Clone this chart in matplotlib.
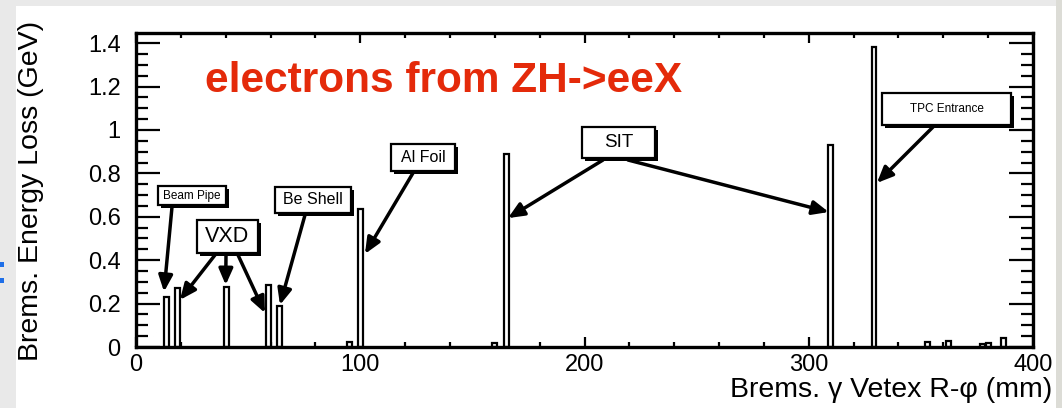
import matplotlib
matplotlib.use("Agg")
import matplotlib.pyplot as plt
from matplotlib.patches import Rectangle
from matplotlib.ticker import MultipleLocator, FixedLocator, FixedFormatter

plt.rcParams["font.family"] = ["Liberation Sans", "DejaVu Sans"]

# histogram: bin centre (mm) and brems energy loss (GeV)
r_mm = [13.5, 18.7, 40.3, 59.2, 64.1, 95.4, 100.2, 160.0, 165.1,
        309.8, 329.1, 352.9, 362.5, 377.5, 380.0, 386.8]
e_gev = [0.232, 0.273, 0.275, 0.286, 0.189, 0.025, 0.636, 0.02, 0.889,
         0.931, 1.381, 0.025, 0.028, 0.015, 0.02, 0.04]
bin_w = 2.2

x_ticks = [0, 100, 200, 300, 400]
x_labels = ["0", "100", "200", "300", "400"]
y_ticks = [0, 0.2, 0.4, 0.6, 0.8, 1.0, 1.2, 1.4]
y_labels = ["0", "0.2", "0.4", "0.6", "0.8", "1", "1.2", "1.4"]

# label boxes: text, (left, top, right, bottom) in image px, font size
boxes = [
    ("Beam Pipe", (158, 186, 226, 205), 8.5),
    ("VXD", (197, 220, 258, 253), 15.5),
    ("Be Shell", (275, 187, 351, 213), 11.5),
    ("Al Foil", (391, 144, 455, 171), 11.5),
    ("SIT", (582, 127, 655, 158), 13.5),
    ("TPC Entrance", (882, 93, 1011, 125), 8.5),
]
# arrows: start (image px) -> tip (data: mm, GeV)
arrows = [
    ((172, 207), (12.5, 0.255)),
    ((215, 255), (19.6, 0.217)),
    ((226, 255), (40.0, 0.286)),
    ((238, 255), (57.5, 0.157)),
    ((305, 215), (64.2, 0.194)),
    ((413, 173), (102.1, 0.429)),
    ((603, 160), (165.9, 0.594)),
    ((628, 160), (308.9, 0.622)),
    ((933, 127), (330.4, 0.756)),
]

W, H = 1062, 408
fx = lambda px: px / W
fy = lambda py: 1 - py / H

fig = plt.figure(figsize=(W / 100, H / 100), dpi=100, facecolor="#e9e9e9")
fig.add_artist(Rectangle((fx(16), 0), fx(1056) - fx(16), fy(6), transform=fig.transFigure,
                         fc="white", ec="none", zorder=0))
fig.add_artist(Rectangle((fx(1056), 0), 1 - fx(1056), 1, transform=fig.transFigure,
                         fc="#dcdcd6", ec="none", zorder=0))
for yb in (262, 278):
    fig.add_artist(Rectangle((0, fy(yb + 5)), fx(4), 5 / H, transform=fig.transFigure,
                             fc="#1f6fe8", ec="none", zorder=0))

ax = fig.add_axes([fx(136), fy(347), fx(1033) - fx(136), fy(33) - fy(347)])
ax.bar(r_mm, e_gev, width=bin_w, facecolor="white", edgecolor="black", linewidth=1.6, zorder=2)
ax.set_xlim(0, 400)
ax.set_ylim(0, 1.447)

ax.xaxis.set_major_locator(FixedLocator(x_ticks))
ax.xaxis.set_major_formatter(FixedFormatter(x_labels))
ax.yaxis.set_major_locator(FixedLocator(y_ticks))
ax.yaxis.set_major_formatter(FixedFormatter(y_labels))
ax.xaxis.set_minor_locator(MultipleLocator(20))
ax.yaxis.set_minor_locator(MultipleLocator(0.05))
ax.tick_params(axis="y", which="major", direction="in", length=17, width=1.6,
               left=True, right=True, labelsize=17, pad=11)
ax.tick_params(axis="y", which="minor", direction="in", length=8.5, width=1.6, left=True, right=True)
ax.tick_params(axis="x", which="major", direction="in", length=7, width=1.6,
               top=True, bottom=True, labelsize=17, pad=5)
ax.tick_params(axis="x", which="minor", direction="in", length=3.6, width=1.6, top=True, bottom=True)
for s in ax.spines.values():
    s.set_linewidth(2.4)

fig.text(fx(31), fy(191), "Brems. Energy Loss (GeV)", rotation=90, ha="center", va="center", fontsize=20.5)
fig.text(fx(1052), fy(390), "Brems. \u03b3 Vetex R-\u03c6 (mm)", ha="right", va="center", fontsize=20.5)
fig.text(fx(444), fy(81), "electrons from ZH->eeX", ha="center", va="center",
         fontsize=30.5, fontweight="bold", color="#e42a0a")

for txt, (l, t, r, b), fs in boxes:
    fig.add_artist(Rectangle((fx(l + 3), fy(b + 3)), fx(r) - fx(l), fy(t) - fy(b),
                             transform=fig.transFigure, fc="black", ec="none", zorder=5))
    fig.add_artist(Rectangle((fx(l), fy(b)), fx(r) - fx(l), fy(t) - fy(b),
                             transform=fig.transFigure, fc="white", ec="black", lw=1.6, zorder=6))
    fig.text(fx((l + r) / 2), fy((t + b) / 2), txt, ha="center", va="center", fontsize=fs, zorder=7)

for (sx, sy), tip in arrows:
    ax.annotate("", xy=tip, xycoords="data", xytext=(fx(sx), fy(sy)), textcoords="figure fraction",
                arrowprops=dict(arrowstyle="-|>,head_length=0.8,head_width=0.35", mutation_scale=12,
                                lw=2.5, color="black", shrinkA=0, shrinkB=0),
                annotation_clip=False, zorder=4)

fig.savefig("out.png", dpi=100, facecolor=fig.get_facecolor())
